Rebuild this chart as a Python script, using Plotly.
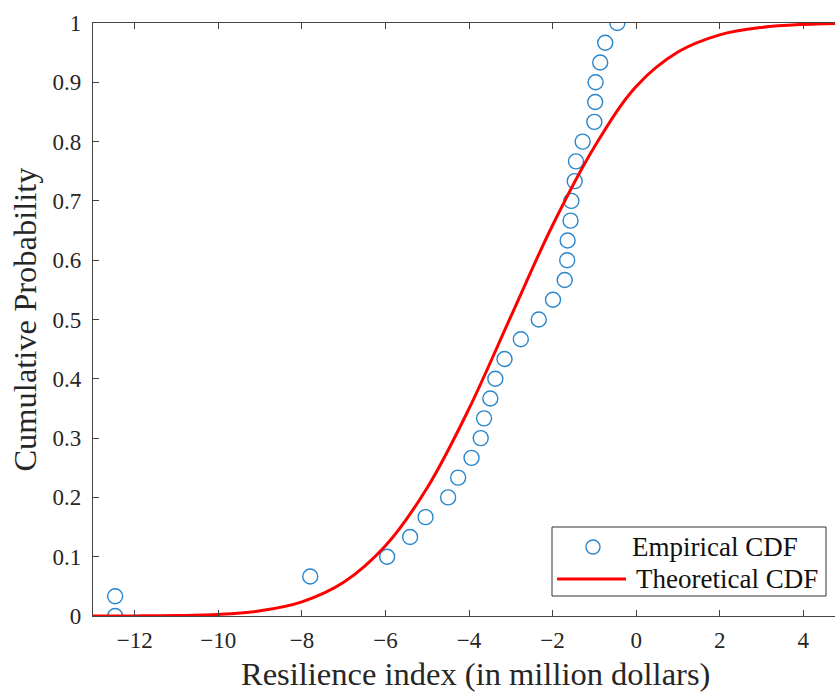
import plotly.graph_objects as go

# Empirical CDF points
emp_x = [-12.47, -12.47, -7.80, -5.96, -5.41, -5.04, -4.50, -4.26, -3.94, -3.72,
         -3.64, -3.49, -3.37, -3.15, -2.76, -2.33, -1.99, -1.71, -1.65, -1.64,
         -1.57, -1.55, -1.47, -1.44, -1.28, -1.00, -0.98, -0.97, -0.86, -0.74, -0.45]
emp_y = [0.0, 0.0333, 0.0667, 0.1, 0.1333, 0.1667, 0.2, 0.2333, 0.2667, 0.3,
         0.3333, 0.3667, 0.4, 0.4333, 0.4667, 0.5, 0.5333, 0.5667, 0.6, 0.6333,
         0.6667, 0.7, 0.7333, 0.7667, 0.8, 0.8333, 0.8667, 0.9, 0.9333, 0.9667, 1.0]

# Theoretical CDF curve
theo_x = [-13, -12, -11, -10, -9, -8, -7, -6, -5, -4, -3, -2, -1, 0, 1, 2, 3, 4, 4.8]
theo_y = [0.0000, 0.0002, 0.0008, 0.0027, 0.0087, 0.0239, 0.0569, 0.1184, 0.2163,
          0.3496, 0.5048, 0.659, 0.791, 0.893, 0.951, 0.980, 0.9925, 0.9976, 0.9992]

x_ticks = [-12, -10, -8, -6, -4, -2, 0, 2, 4]
y_ticks = [0, 0.1, 0.2, 0.3, 0.4, 0.5, 0.6, 0.7, 0.8, 0.9, 1]
y_labels = ["0", "0.1", "0.2", "0.3", "0.4", "0.5", "0.6", "0.7", "0.8", "0.9", "1"]
legend_names = ["Empirical CDF", "Theoretical CDF"]
x_title = "Resilience index (in million dollars)"
y_title = "Cumulative Probability"

serif = "Liberation Serif, Times New Roman, serif"
blue = "#2a86cc"
red = "#ff0000"

W, H = 835, 693
ML, MR, MT, MB = 93, 0, 23, 77
PW, PH = W - ML - MR, H - MT - MB


def px(xp):
    return (xp - ML) / PW


def py(yp):
    return (H - MB - yp) / PH


fig = go.Figure()
fig.add_trace(go.Scatter(
    x=emp_x, y=emp_y, mode="markers", name=legend_names[0], showlegend=False,
    marker=dict(symbol="circle-open", size=15, color=blue,
                line=dict(width=1.4, color=blue)),
))
fig.add_trace(go.Scatter(
    x=theo_x, y=theo_y, mode="lines", name=legend_names[1], showlegend=False,
    line=dict(color=red, width=3, shape="spline", smoothing=1.0),
))

# Legend box drawn in paper coordinates (MATLAB-style compact legend)
shapes = [
    dict(type="rect", xref="paper", yref="paper",
         x0=px(552), x1=px(826), y0=py(596), y1=py(527),
         fillcolor="white", line=dict(color="#333333", width=1), layer="above"),
    dict(type="circle", xref="paper", yref="paper",
         xsizemode="pixel", ysizemode="pixel",
         xanchor=px(593), yanchor=py(547), x0=-7, x1=7, y0=-7, y1=7,
         line=dict(color=blue, width=1.4), layer="above"),
    dict(type="line", xref="paper", yref="paper",
         x0=px(557), x1=px(626), y0=py(579), y1=py(579),
         line=dict(color=red, width=3), layer="above"),
]
annotations = [
    dict(text=legend_names[0], xref="paper", yref="paper", x=px(630), y=py(547),
         xanchor="left", yanchor="middle", showarrow=False,
         font=dict(family=serif, size=27, color="#111111")),
    dict(text=legend_names[1], xref="paper", yref="paper", x=px(634), y=py(579),
         xanchor="left", yanchor="middle", showarrow=False,
         font=dict(family=serif, size=27, color="#111111")),
    dict(text=x_title, xref="paper", yref="paper", x=px(475), y=py(674),
         xanchor="center", yanchor="middle", showarrow=False,
         font=dict(family=serif, size=32.5, color="#262626")),
]

fig.update_layout(
    width=W, height=H,
    margin=dict(l=ML, r=MR, t=MT, b=MB),
    paper_bgcolor="white", plot_bgcolor="white",
    font=dict(family=serif, color="#262626"),
    showlegend=False,
    shapes=shapes,
    annotations=annotations,
    xaxis=dict(
        range=[-13, 4.76], tickvals=x_ticks,
        ticks="inside", ticklen=6, tickcolor="#444444",
        showline=True, linecolor="#444444", linewidth=1.2, mirror="ticks",
        showgrid=False, zeroline=False, ticklabelstandoff=3,
        tickfont=dict(family=serif, size=23, color="#262626"),
    ),
    yaxis=dict(
        range=[0, 1], tickvals=y_ticks, ticktext=y_labels,
        ticks="inside", ticklen=6, tickcolor="#444444",
        showline=True, linecolor="#444444", linewidth=1.2,
        showgrid=False, zeroline=False, ticklabelstandoff=6,
        tickfont=dict(family=serif, size=23, color="#262626"),
        title=dict(text=y_title,
                   font=dict(family=serif, size=32.5, color="#262626"), standoff=6),
    ),
)

fig.write_html("out.html")
